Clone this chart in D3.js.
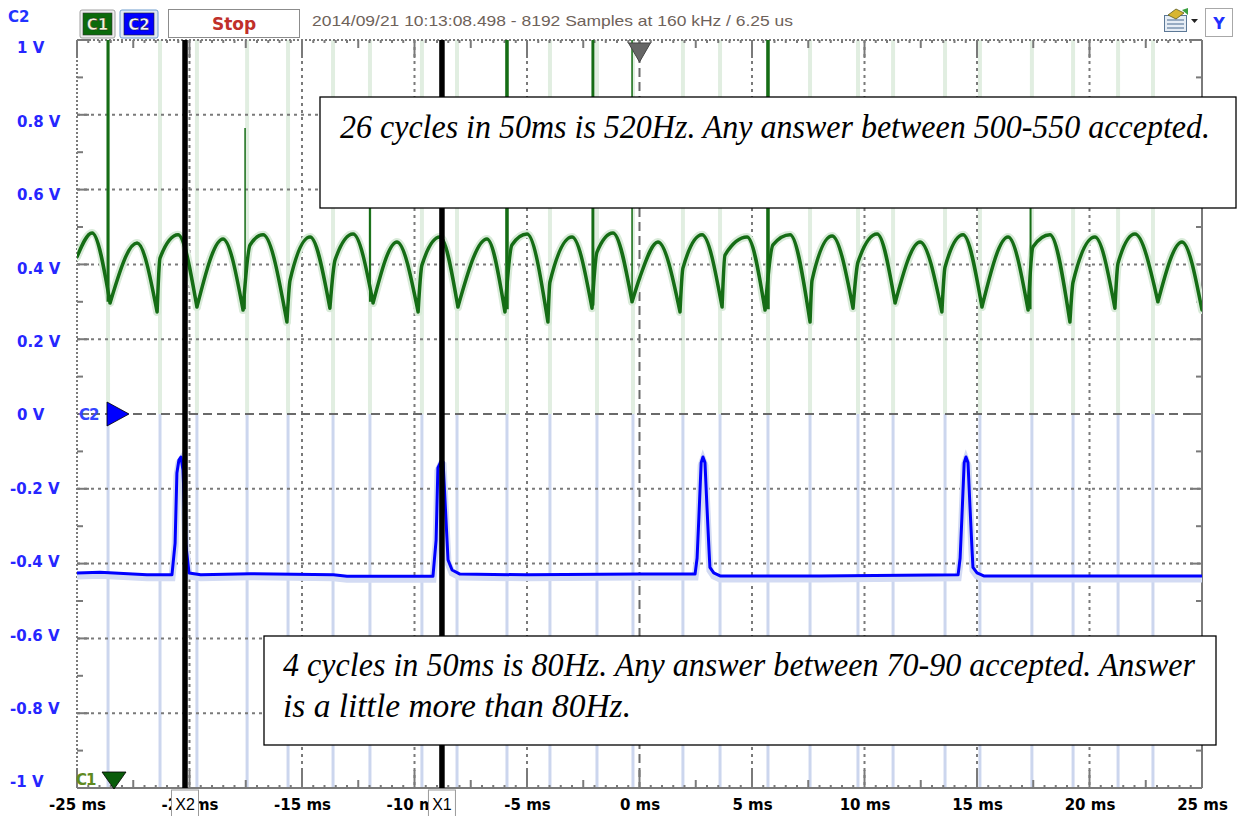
<!DOCTYPE html>
<html>
<head>
<meta charset="utf-8">
<script src="https://cdn.jsdelivr.net/npm/d3@7"></script>
<style>
  html, body { margin: 0; padding: 0; background: #fff; }
  svg { display: block; }
</style>
</head>
<body>
<svg id="scope" width="1237" height="816"></svg>
<script>
// axes
const timeTicks = [-25, -20, -15, -10, -5, 0, 5, 10, 15, 20, 25];          // ms
const voltTicks = [1, 0.8, 0.6, 0.4, 0.2, 0, -0.2, -0.4, -0.6, -0.8, -1];  // V

// channel 1 (green): peaks, troughs and the shoulders after a kick, [ms, V]
const c1Trace = [
  [-25.0, 0.42], [-24.33, 0.484], [-23.53, 0.297], [-22.33, 0.457], [-21.44, 0.273],
  [-21.31, 0.417], [-20.51, 0.479], [-19.67, 0.286], [-18.51, 0.468], [-17.62, 0.278],
  [-17.31, 0.452], [-16.73, 0.479], [-15.67, 0.246], [-15.53, 0.358], [-14.64, 0.473],
  [-13.76, 0.283], [-13.53, 0.412], [-12.73, 0.481], [-11.84, 0.297], [-10.78, 0.46],
  [-9.84, 0.273], [-9.67, 0.398], [-8.87, 0.473], [-8.07, 0.286], [-6.78, 0.468],
  [-5.98, 0.273], [-5.67, 0.452], [-5.0, 0.481], [-4.07, 0.246], [-3.98, 0.353],
  [-3.0, 0.473], [-2.11, 0.283], [-1.89, 0.433], [-1.18, 0.484], [-0.33, 0.30],
  [0.02, 0.366], [0.82, 0.46], [1.8, 0.273], [1.93, 0.39], [2.78, 0.479],
  [3.67, 0.286], [3.8, 0.425], [4.78, 0.473], [5.58, 0.278], [5.93, 0.452],
  [6.69, 0.479], [7.58, 0.246], [7.67, 0.358], [8.56, 0.476], [9.49, 0.283],
  [9.71, 0.406], [10.56, 0.481], [11.36, 0.297], [12.47, 0.46], [13.44, 0.273],
  [13.58, 0.393], [14.38, 0.479], [15.22, 0.286], [16.38, 0.473], [17.27, 0.278],
  [17.49, 0.447], [18.24, 0.479], [19.13, 0.246], [19.27, 0.353], [20.24, 0.473],
  [21.13, 0.283], [21.27, 0.404], [22.02, 0.481], [23.04, 0.30], [24.11, 0.46],
  [25.0, 0.278]
];

// channel 1 glitches
const c1SpikeTimes = [-23.62, -17.53, -11.98, -5.89, -2.07, -0.33, 5.71, 17.38];
const c1SpikeTops  = [1.05, 0.765, 0.58, 1.05, 1.05, 1.05, 1.05, 0.58];
const c1SpikeBases = [0.30, 0.28, 0.30, 0.28, 0.29, 0.30, 0.28, 0.28];
const c1SpikeWidth = [3, 1.5, 2, 3.5, 3, 1.5, 3.5, 2];

// channel 2 (blue), [ms, V]
const c2Trace = [
  [-25, -0.425], [-23.98, -0.423], [-21.89, -0.43], [-20.78, -0.43], [-20.64, -0.345],
  [-20.56, -0.158], [-20.47, -0.123], [-20.38, -0.115], [-20.29, -0.15], [-20.16, -0.35],
  [-20.02, -0.425], [-19.5, -0.43], [-17.3, -0.427], [-13.6, -0.43], [-13.0, -0.434],
  [-9.18, -0.434], [-9.04, -0.337], [-8.96, -0.144], [-8.82, -0.126], [-8.73, -0.128],
  [-8.6, -0.283], [-8.51, -0.39], [-8.33, -0.417], [-7.98, -0.428], [-5, -0.43],
  [0, -0.428], [2.47, -0.428], [2.56, -0.385], [2.64, -0.275], [2.74, -0.13],
  [2.82, -0.115], [2.91, -0.13], [3.0, -0.25], [3.09, -0.364], [3.13, -0.41],
  [3.3, -0.425], [3.58, -0.433], [8, -0.433], [14.16, -0.43], [14.25, -0.385],
  [14.33, -0.275], [14.43, -0.13], [14.51, -0.115], [14.6, -0.13], [14.69, -0.25],
  [14.78, -0.364], [14.82, -0.41], [15.0, -0.425], [15.3, -0.433], [20, -0.433],
  [25, -0.433]
];

// faint persistence lines left by earlier captures, ms
const ghostTimes = [-23.62, -21.31, -19.67, -17.44, -15.62, -13.62, -11.98, -9.67, -8.11,
  -5.89, -3.98, -1.89, -0.29, 1.93, 3.58, 5.71, 7.58, 9.71, 11.27, 13.58, 15.13, 17.44,
  19.27, 21.27, 22.82];

const cursorNames = ["X2", "X1"];
const cursorTimes = [-20.2, -8.78];

const headerText = "2014/09/21 10:13:08.498 - 8192 Samples at 160 kHz / 6.25 us";
const note1Lines = ["26 cycles in 50ms is 520Hz. Any answer between 500-550 accepted."];
const note2Lines = ["4 cycles in 50ms is 80Hz. Any answer between 70-90 accepted. Answer",
  "is a little more than 80Hz."];

const svg = d3.select("#scope");
const plot = { left: 77, right: 1202, top: 40, bottom: 788 };

const x = d3.scaleLinear().domain([-25, 25]).range([plot.left, plot.right]);
const y = d3.scaleLinear().domain([-1, 1]).range([plot.bottom, plot.top]);
const yLabel = d3.scaleLinear().domain([-1, 1]).range([782, 48]);

const labelFont = "'DejaVu Sans', Verdana, sans-serif";
const noteFont = "'Liberation Serif', 'Times New Roman', serif";
const gridColor = "#7a7a7a";

svg.append("defs").append("clipPath").attr("id", "plot-clip")
  .append("rect")
  .attr("x", plot.left).attr("y", plot.top)
  .attr("width", plot.right - plot.left).attr("height", plot.bottom - plot.top);

// persistence ghosts
const ghosts = svg.append("g");
ghosts.selectAll(".ghost-green").data(ghostTimes).join("line")
  .attr("x1", d => x(d)).attr("x2", d => x(d))
  .attr("y1", y(1)).attr("y2", y(0))
  .attr("stroke", "#e1eee1").attr("stroke-width", 4);
ghosts.selectAll(".ghost-blue").data(ghostTimes).join("line")
  .attr("x1", d => x(d)).attr("x2", d => x(d))
  .attr("y1", y(0)).attr("y2", y(-1))
  .attr("stroke", "#ccd6ee").attr("stroke-width", 3);

// grid
const grid = svg.append("g");
grid.selectAll(".vgrid").data(timeTicks.slice(1, -1)).join("line")
  .attr("x1", d => x(d)).attr("x2", d => x(d))
  .attr("y1", plot.top).attr("y2", plot.bottom)
  .attr("stroke", d => d === 0 ? "#6a6a6a" : gridColor)
  .attr("stroke-width", 2)
  .attr("stroke-dasharray", d => d === 0 ? "9,5" : "3,4");
grid.selectAll(".hgrid").data(voltTicks.slice(1, -1)).join("line")
  .attr("x1", plot.left).attr("x2", plot.right)
  .attr("y1", d => y(d)).attr("y2", d => y(d))
  .attr("stroke", d => d === 0 ? "#6a6a6a" : gridColor)
  .attr("stroke-width", 2)
  .attr("stroke-dasharray", d => d === 0 ? "9,5" : "3,4");

// frame
const frame = svg.append("g").attr("stroke", gridColor);
frame.append("line").attr("x1", plot.left).attr("x2", plot.right)
  .attr("y1", plot.top).attr("y2", plot.top)
  .attr("stroke-width", 2).attr("stroke-dasharray", "2,2");
frame.append("line").attr("x1", plot.left).attr("x2", plot.left)
  .attr("y1", plot.top).attr("y2", plot.bottom)
  .attr("stroke-width", 2).attr("stroke-dasharray", "2,2");
frame.append("line").attr("x1", plot.left).attr("x2", plot.right)
  .attr("y1", plot.bottom).attr("y2", plot.bottom).attr("stroke-width", 2);
frame.append("line").attr("x1", plot.right).attr("x2", plot.right)
  .attr("y1", plot.top).attr("y2", plot.bottom).attr("stroke-width", 2);

// ticks on the time edges: 0.5 ms minor, 2.5 ms medium, 5 ms major
const timeMinor = x.ticks(100);
const tickLen = d => {
  const r = Math.round(d * 2);
  if (r % 10 === 0) return 18;
  if (r % 5 === 0) return 8;
  return 3;
};
frame.selectAll(".ttop").data(timeMinor).join("line")
  .attr("x1", d => x(d)).attr("x2", d => x(d))
  .attr("y1", plot.top).attr("y2", d => plot.top + tickLen(d))
  .attr("stroke-width", 2);
frame.selectAll(".tbot").data(timeMinor).join("line")
  .attr("x1", d => x(d)).attr("x2", d => x(d))
  .attr("y1", plot.bottom).attr("y2", d => plot.bottom - tickLen(d))
  .attr("stroke-width", 2);

// ticks on the volt edges: 0.1 V medium, 0.2 V major
const voltMinor = y.ticks(20);
const vLen = d => (Math.round(d * 10) % 2 === 0 ? 12 : 6);
frame.selectAll(".vleft").data(voltMinor).join("line")
  .attr("x1", plot.left).attr("x2", d => plot.left + vLen(d))
  .attr("y1", d => y(d)).attr("y2", d => y(d)).attr("stroke-width", 2);
frame.selectAll(".vright").data(voltMinor).join("line")
  .attr("x1", plot.right).attr("x2", d => plot.right - vLen(d))
  .attr("y1", d => y(d)).attr("y2", d => y(d)).attr("stroke-width", 2);

// traces
const traces = svg.append("g").attr("clip-path", "url(#plot-clip)");

// split channel 1 at each trough so the cusps stay sharp
const arches = [];
let arch = [c1Trace[0]];
for (let i = 1; i < c1Trace.length; i++) {
  arch.push(c1Trace[i]);
  const isTrough = i < c1Trace.length - 1 &&
    c1Trace[i][1] < c1Trace[i - 1][1] && c1Trace[i][1] < c1Trace[i + 1][1];
  if (isTrough) { arches.push(arch); arch = [c1Trace[i]]; }
}
arches.push(arch);
const archLine = d3.line().x(d => x(d[0])).y(d => y(d[1])).curve(d3.curveMonotoneX);
const c1Path = arches.map(a => archLine(a)).join("");

const c2Line = d3.line().x(d => x(d[0])).y(d => y(d[1]));

traces.append("path").attr("d", c2Line(c2Trace))
  .attr("transform", "translate(0,3)")
  .attr("fill", "none").attr("stroke", "#d3dbf3").attr("stroke-width", 7);
traces.append("path").attr("d", c1Path)
  .attr("fill", "none").attr("stroke", "#d9ebd9").attr("stroke-width", 8)
  .attr("stroke-linejoin", "round").attr("stroke-linecap", "round");

traces.append("path").attr("d", c2Line(c2Trace))
  .attr("fill", "none").attr("stroke", "#0000ff").attr("stroke-width", 3)
  .attr("stroke-linejoin", "round");
traces.append("path").attr("d", c1Path)
  .attr("fill", "none").attr("stroke", "#156d15").attr("stroke-width", 3.5)
  .attr("stroke-linejoin", "round").attr("stroke-linecap", "round");

traces.selectAll(".spike").data(c1SpikeTimes).join("line")
  .attr("x1", d => x(d)).attr("x2", d => x(d))
  .attr("y1", (d, i) => y(c1SpikeBases[i])).attr("y2", (d, i) => y(c1SpikeTops[i]))
  .attr("stroke", "#156d15").attr("stroke-width", (d, i) => c1SpikeWidth[i]);

// cursors
svg.selectAll(".cursor").data(cursorTimes).join("line")
  .attr("x1", d => x(d)).attr("x2", d => x(d))
  .attr("y1", plot.top).attr("y2", plot.bottom)
  .attr("stroke", "#000").attr("stroke-width", 5.5);

// trigger marker
svg.append("path")
  .attr("d", `M${x(0) - 11},${plot.top + 3} L${x(0) + 11},${plot.top + 3} L${x(0)},${plot.top + 22} Z`)
  .attr("fill", "#666").attr("stroke", "#444").attr("stroke-width", 1);

// channel markers
svg.append("path")
  .attr("d", `M107,${y(0) - 12} L107,${y(0) + 12} L129,${y(0)} Z`)
  .attr("fill", "#0000ff").attr("stroke", "#000").attr("stroke-width", 0.8);
svg.append("text").attr("x", 79).attr("y", y(0) + 6)
  .attr("font-family", labelFont).attr("font-weight", "bold").attr("font-size", 15)
  .attr("letter-spacing", -1)
  .attr("fill", "#3344ff").text("C2");
svg.append("path")
  .attr("d", `M102,${plot.bottom - 16} L126,${plot.bottom - 16} L114,${plot.bottom + 1} Z`)
  .attr("fill", "#0a5c0a").attr("stroke", "#000").attr("stroke-width", 0.8);
svg.append("text").attr("x", 76).attr("y", plot.bottom - 3)
  .attr("font-family", labelFont).attr("font-weight", "bold").attr("font-size", 15)
  .attr("letter-spacing", -1)
  .attr("fill", "#5f8a1f").text("C1");

// note boxes
function noteBox(bx, by, bw, bh, lines, tx, ty, lineGap, widths) {
  const g = svg.append("g");
  g.append("rect").attr("x", bx).attr("y", by).attr("width", bw).attr("height", bh)
    .attr("fill", "#fff").attr("stroke", "#000").attr("stroke-width", 1.3);
  g.selectAll("text").data(lines).join("text")
    .attr("x", tx).attr("y", (d, i) => ty + i * lineGap)
    .attr("font-family", noteFont).attr("font-style", "italic").attr("font-size", 33)
    .attr("fill", "#000")
    .attr("textLength", (d, i) => widths[i])
    .attr("lengthAdjust", "spacingAndGlyphs")
    .text(d => d);
}
noteBox(320, 97, 916, 111, note1Lines, 340, 138, 0, [870]);
noteBox(264, 636, 952, 109, note2Lines, 283, 676, 41, [912, 348]);

// voltage labels
svg.append("g").selectAll("text").data(voltTicks).join("text")
  .attr("x", d => d < 0 ? 10 : 17)
  .attr("y", d => yLabel(d)).attr("dy", "0.36em")
  .attr("font-family", labelFont).attr("font-weight", "bold").attr("font-size", 15)
  .attr("fill", "#2626ff")
  .text(d => `${d} V`);

// time labels
const xAxis = d3.axisBottom(x).tickValues(timeTicks).tickSize(0).tickPadding(11)
  .tickFormat(d => `${d} ms`);
const xg = svg.append("g").attr("transform", `translate(0,${plot.bottom})`).call(xAxis);
xg.select(".domain").remove();
xg.selectAll("text")
  .attr("font-family", labelFont).attr("font-weight", "bold").attr("font-size", 15)
  .attr("fill", "#000");

// cursor tags
const tags = svg.selectAll(".tag").data(cursorTimes).join("g")
  .attr("transform", d => `translate(${x(d)},0)`);
tags.append("rect").attr("x", -13.5).attr("y", 790).attr("width", 27).attr("height", 27)
  .attr("fill", "#fff").attr("stroke", "#9a9a9a").attr("stroke-width", 1);
tags.append("text").attr("x", 0).attr("y", 810).attr("text-anchor", "middle")
  .attr("font-family", "'Liberation Sans', Arial, sans-serif").attr("font-size", 16)
  .attr("fill", "#000").text((d, i) => cursorNames[i]);

// top bar
svg.append("text").attr("x", 8).attr("y", 22)
  .attr("font-family", labelFont).attr("font-weight", "bold").attr("font-size", 15)
  .attr("fill", "#2233ff").text("C2");

const c1Btn = svg.append("g");
c1Btn.append("rect").attr("x", 80).attr("y", 10).attr("width", 35).attr("height", 28)
  .attr("rx", 2).attr("fill", "#ececec").attr("stroke", "#a0a0a0");
c1Btn.append("rect").attr("x", 83).attr("y", 13).attr("width", 29).attr("height", 22)
  .attr("fill", "#0b6a0b").attr("stroke", "#333").attr("stroke-width", 0.6);
c1Btn.append("text").attr("x", 97.5).attr("y", 30).attr("text-anchor", "middle")
  .attr("font-family", labelFont).attr("font-weight", "bold").attr("font-size", 15)
  .attr("fill", "#f4f4d8").attr("stroke", "#1a1a1a").attr("stroke-width", 0.4)
  .text("C1");

const c2Btn = svg.append("g");
c2Btn.append("rect").attr("x", 120).attr("y", 10).attr("width", 38).attr("height", 28)
  .attr("rx", 2).attr("fill", "#dfe9f6").attr("stroke", "#6e9ccc");
c2Btn.append("rect").attr("x", 124).attr("y", 13).attr("width", 30).attr("height", 22)
  .attr("fill", "#0000ff").attr("stroke", "#222").attr("stroke-width", 0.6);
c2Btn.append("text").attr("x", 139).attr("y", 30).attr("text-anchor", "middle")
  .attr("font-family", labelFont).attr("font-weight", "bold").attr("font-size", 15)
  .attr("fill", "#f4f4ff").attr("stroke", "#1a1a1a").attr("stroke-width", 0.4)
  .text("C2");

svg.append("rect").attr("x", 168.5).attr("y", 9.5).attr("width", 131).attr("height", 28)
  .attr("fill", "#fff").attr("stroke", "#8c8c8c").attr("stroke-width", 1);
svg.append("text").attr("x", 234).attr("y", 30).attr("text-anchor", "middle")
  .attr("font-family", labelFont).attr("font-weight", "bold").attr("font-size", 17)
  .attr("fill", "#c0302a").text("Stop");

svg.append("text").attr("x", 312).attr("y", 26)
  .attr("font-family", "'Liberation Sans', Arial, sans-serif").attr("font-size", 15)
  .attr("fill", "#6e625a")
  .attr("textLength", 481).attr("lengthAdjust", "spacingAndGlyphs")
  .text(headerText);

// toolbar icon and Y button
const icon = svg.append("g");
icon.append("rect").attr("x", 1164.5).attr("y", 15.5).attr("width", 22).attr("height", 16)
  .attr("fill", "#e6edf5").attr("stroke", "#5c7896");
icon.selectAll(".row").data([20, 24, 28]).join("line")
  .attr("x1", 1167).attr("x2", 1184).attr("y1", d => d).attr("y2", d => d)
  .attr("stroke", "#7d94b0").attr("stroke-width", 1.5);
icon.append("path").attr("d", "M1168,15 L1176,9 L1184,13 L1176,19 Z")
  .attr("fill", "#d8b630").attr("stroke", "#5a5a20").attr("stroke-width", 0.8);
icon.append("path").attr("d", "M1182,10 L1188,8 L1188,15 Z").attr("fill", "#3aa040");
icon.append("path").attr("d", "M1191,19 L1198,19 L1194.5,23 Z").attr("fill", "#222");

svg.append("rect").attr("x", 1205.5).attr("y", 8.5).attr("width", 27).attr("height", 28)
  .attr("fill", "#fff").attr("stroke", "#a8a8a8");
svg.append("text").attr("x", 1219).attr("y", 29).attr("text-anchor", "middle")
  .attr("font-family", labelFont).attr("font-weight", "bold").attr("font-size", 16)
  .attr("fill", "#1f2fff").text("Y");
</script>
</body>
</html>
